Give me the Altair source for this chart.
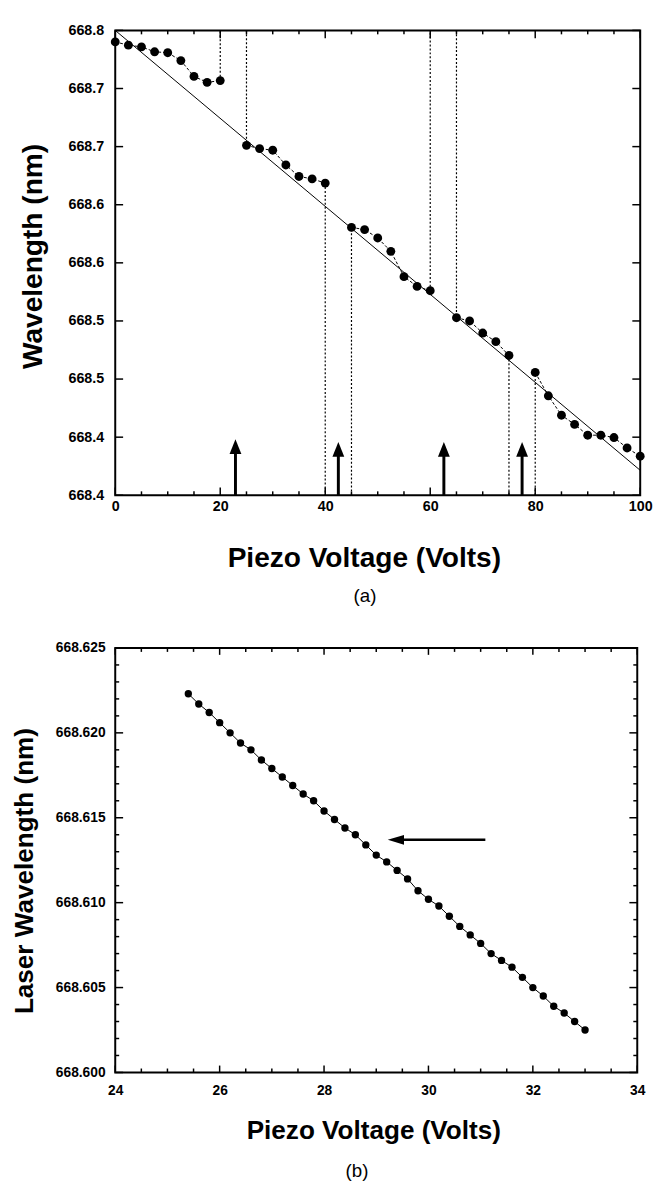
import altair as alt
import pandas as pd

# ---------------- panel (a) ----------------
a_volt = [0, 2.5, 5, 7.5, 10, 12.5, 15, 17.5, 20,
          25, 27.5, 30, 32.5, 35, 37.5, 40,
          45, 47.5, 50, 52.5, 55, 57.5, 60,
          65, 67.5, 70, 72.5, 75,
          80, 82.5, 85, 87.5, 90, 92.5, 95, 97.5, 100]
a_wave = [668.7901, 668.7873, 668.7858, 668.7816, 668.7808, 668.7740, 668.7604, 668.7553, 668.7568,
          668.7011, 668.6983, 668.6969, 668.6842, 668.6743, 668.6723, 668.6686,
          668.6305, 668.6286, 668.6214, 668.6099, 668.5881, 668.5797, 668.5760,
          668.5528, 668.5500, 668.5396, 668.5322, 668.5203,
          668.5057, 668.4856, 668.4689, 668.4610, 668.4517, 668.4517, 668.4497, 668.4407, 668.4336]
a_segment = ["s1", "s1", "s1", "s1", "s1", "s1", "s1", "s1", "s1",
             "s2", "s2", "s2", "s2", "s2", "s2", "s2",
             "s3", "s3", "s3", "s3", "s3", "s3", "s3",
             "s4", "s4", "s4", "s4", "s4",
             "s5", "s5", "s5", "s5", "s5", "s5", "s5", "s5", "s5"]

fit_volt = [0, 100]
fit_wave = [668.800, 668.4215]

hop_volt = [20, 25, 40, 45, 60, 65, 75, 80]
hop_from = [668.7568, 668.800, 668.6686, 668.400, 668.5760, 668.800, 668.5203, 668.400]
hop_to = [668.800, 668.7011, 668.400, 668.6305, 668.800, 668.5528, 668.400, 668.5057]

arrow_volt = [22.9, 42.5, 62.6, 77.5]
arrow_base = [668.400, 668.400, 668.400, 668.400]
arrow_shaft_end = [668.4400, 668.4375, 668.4375, 668.4375]
arrow_tip = [668.4483, 668.4458, 668.4458, 668.4458]

a_x_labels = [0, 20, 40, 60, 80, 100]
a_x_minor = [5, 10, 15, 25, 30, 35, 45, 50, 55, 65, 70, 75, 85, 90, 95]
a_y_labels = [668.40, 668.45, 668.50, 668.55, 668.60, 668.65, 668.70, 668.75, 668.80]

# ---------------- panel (b) ----------------
b_volt = [25.4, 25.6, 25.8, 26.0, 26.2, 26.4, 26.6, 26.8, 27.0, 27.2,
          27.4, 27.6, 27.8, 28.0, 28.2, 28.4, 28.6, 28.8, 29.0, 29.2,
          29.4, 29.6, 29.8, 30.0, 30.2, 30.4, 30.6, 30.8, 31.0, 31.2,
          31.4, 31.6, 31.8, 32.0, 32.2, 32.4, 32.6, 32.8, 33.0]
b_wave = [668.6223, 668.6217, 668.6212, 668.6206, 668.6200, 668.6194, 668.6190, 668.6184, 668.6179, 668.6174,
          668.6169, 668.6164, 668.6160, 668.6154, 668.6149, 668.6144, 668.6140, 668.6134, 668.6128, 668.6124,
          668.6119, 668.6114, 668.6107, 668.6102, 668.6098, 668.6092, 668.6086, 668.6081, 668.6076, 668.6070,
          668.6066, 668.6062, 668.6056, 668.6050, 668.6045, 668.6039, 668.6035, 668.6030, 668.6025]

b_arrow_tail = [31.09]
b_arrow_shaft_end = [29.45]
b_arrow_tip = [29.22]
b_arrow_wave = [668.6137]

b_x_labels = [24, 26, 28, 30, 32, 34]
b_x_minor = [24.5, 25, 25.5, 26.5, 27, 27.5, 28.5, 29, 29.5, 30.5, 31, 31.5, 32.5, 33, 33.5]
b_y_labels = [668.600, 668.605, 668.610, 668.615, 668.620, 668.625]
b_y_minor = [668.601, 668.602, 668.603, 668.604, 668.606, 668.607, 668.608, 668.609,
             668.611, 668.612, 668.613, 668.614, 668.616, 668.617, 668.618, 668.619,
             668.621, 668.622, 668.623, 668.624]

FONT = "Liberation Sans"
UP_ARROW = "M0,0L-1,2.5L1,2.5Z"
LEFT_ARROW = "M0,0L3.3,-1L3.3,1Z"


def x_ticks(values, scale, axis, length, H, width=1.5):
    df = pd.DataFrame({"t": values})
    base = alt.Chart(df).mark_rule(color="black", strokeWidth=width)
    bottom = base.encode(x=alt.X("t:Q", scale=scale, axis=axis),
                         y=alt.value(H), y2=alt.value(H - length))
    top = base.encode(x=alt.X("t:Q", scale=scale, axis=axis),
                      y=alt.value(0), y2=alt.value(length))
    return [bottom, top]


def y_ticks(values, scale, axis, length, W, width=1.5):
    df = pd.DataFrame({"t": values})
    base = alt.Chart(df).mark_rule(color="black", strokeWidth=width)
    left = base.encode(y=alt.Y("t:Q", scale=scale, axis=axis),
                       x=alt.value(0), x2=alt.value(length))
    right = base.encode(y=alt.Y("t:Q", scale=scale, axis=axis),
                        x=alt.value(W), x2=alt.value(W - length))
    return [left, right]


# ================= chart (a) =================
W1, H1 = 533, 472
xs1 = alt.Scale(domain=[0, 100], nice=False, zero=False)
ys1 = alt.Scale(domain=[668.40, 668.80], nice=False, zero=False)

df_a = pd.DataFrame({"volt": a_volt, "wave": a_wave, "seg": a_segment})
df_fit = pd.DataFrame({"volt": fit_volt, "wave": fit_wave})
df_hop = pd.DataFrame({"volt": hop_volt, "w1": hop_from, "w2": hop_to})
df_arr = pd.DataFrame({"volt": arrow_volt, "base": arrow_base,
                       "shaft": arrow_shaft_end, "tip": arrow_tip})

xa1 = alt.Axis(values=a_x_labels, format="d", labelFlush=False, labelOverlap=False,
               labelFont=FONT, labelFontSize=14.5, labelFontWeight="bold",
               labelColor="black", labelPadding=4, ticks=False, tickSize=0,
               domain=False, grid=False,
               title="Piezo Voltage (Volts)", titleFont=FONT, titleFontSize=28.5,
               titleFontWeight="bold", titleColor="black",
               titleX=252.4, titleY=72, titleAlign="center", titleBaseline="alphabetic")
ya1 = alt.Axis(values=a_y_labels,
               labelExpr="format(floor(datum.value*10+0.0001)/10, '.1f')",
               labelFlush=False, labelOverlap=False,
               labelFont=FONT, labelFontSize=14.5, labelFontWeight="bold",
               labelColor="black", labelPadding=11.7, ticks=False, tickSize=0,
               domain=False, grid=False,
               title="Wavelength (nm)", titleFont=FONT, titleFontSize=28.5,
               titleFontWeight="bold", titleColor="black", titleAngle=270,
               titleX=-75.3, titleY=229, titleAlign="center", titleBaseline="alphabetic")

X1 = lambda f: alt.X(f, scale=xs1, axis=xa1)
Y1 = lambda f: alt.Y(f, scale=ys1, axis=ya1)

fit1 = alt.Chart(df_fit).mark_line(color="black", strokeWidth=1).encode(
    x=X1("volt:Q"), y=Y1("wave:Q"))
connect1 = alt.Chart(df_a).mark_line(color="black", strokeWidth=1, strokeDash=[3, 2]).encode(
    x=X1("volt:Q"), y=Y1("wave:Q"), detail="seg:N")
hops1 = alt.Chart(df_hop).mark_rule(color="black", strokeWidth=1.2, strokeDash=[2, 2]).encode(
    x=X1("volt:Q"), y=Y1("w1:Q"), y2="w2:Q")
shafts1 = alt.Chart(df_arr).mark_rule(color="black", strokeWidth=3).encode(
    x=X1("volt:Q"), y=Y1("base:Q"), y2="shaft:Q")
heads1 = alt.Chart(df_arr).mark_point(shape=UP_ARROW, size=144, filled=True, color="black",
                                       opacity=1, strokeWidth=0).encode(
    x=X1("volt:Q"), y=Y1("tip:Q"))
points1 = alt.Chart(df_a).mark_circle(size=81, color="black", opacity=1).encode(
    x=X1("volt:Q"), y=Y1("wave:Q"))

ticks1 = (x_ticks(a_x_labels, xs1, xa1, 8, H1) + x_ticks(a_x_minor, xs1, xa1, 4, H1)
          + y_ticks(a_y_labels, ys1, ya1, 8, W1))

chart_a = alt.layer(fit1, connect1, hops1, shafts1, heads1, *ticks1, points1).properties(
    width=W1, height=H1,
    title=alt.TitleParams("(a)", orient="bottom", anchor="middle", frame="group",
                          dx=-13, offset=16, font=FONT, fontSize=19, fontWeight="normal",
                          color="black", baseline="top"))

# ================= chart (b) =================
W2, H2 = 530, 431
xs2 = alt.Scale(domain=[24, 34], nice=False, zero=False)
ys2 = alt.Scale(domain=[668.600, 668.625], nice=False, zero=False)

df_b = pd.DataFrame({"volt": b_volt, "wave": b_wave})
df_barr = pd.DataFrame({"tail": b_arrow_tail, "shaft": b_arrow_shaft_end,
                        "tip": b_arrow_tip, "wave": b_arrow_wave})

xa2 = alt.Axis(values=b_x_labels, format="d", labelFlush=False, labelOverlap=False,
               labelFont=FONT, labelFontSize=14, labelFontWeight="bold",
               labelColor="black", labelPadding=11, ticks=False, tickSize=0,
               domain=False, grid=False,
               title="Piezo Voltage (Volts)", titleFont=FONT, titleFontSize=26.5,
               titleFontWeight="bold", titleColor="black",
               titleX=262, titleY=66.7, titleAlign="center", titleBaseline="alphabetic")
ya2 = alt.Axis(values=b_y_labels, format=".3f", labelFlush=False, labelOverlap=False,
               labelFont=FONT, labelFontSize=14, labelFontWeight="bold",
               labelColor="black", labelPadding=10.3, ticks=False, tickSize=0,
               domain=False, grid=False,
               title="Laser Wavelength (nm)", titleFont=FONT, titleFontSize=26.5,
               titleFontWeight="bold", titleColor="black", titleAngle=270,
               titleX=-83.5, titleY=226, titleAlign="center", titleBaseline="alphabetic")

X2 = lambda f: alt.X(f, scale=xs2, axis=xa2)
Y2 = lambda f: alt.Y(f, scale=ys2, axis=ya2)

line2 = alt.Chart(df_b).mark_line(color="black", strokeWidth=1).encode(
    x=X2("volt:Q"), y=Y2("wave:Q"))
shaft2 = alt.Chart(df_barr).mark_rule(color="black", strokeWidth=2.5).encode(
    x=X2("tail:Q"), x2="shaft:Q", y=Y2("wave:Q"))
head2 = alt.Chart(df_barr).mark_point(shape=LEFT_ARROW, size=100, filled=True, color="black",
                                      opacity=1, strokeWidth=0).encode(
    x=X2("tip:Q"), y=Y2("wave:Q"))
points2 = alt.Chart(df_b).mark_circle(size=56, color="black", opacity=1).encode(
    x=X2("volt:Q"), y=Y2("wave:Q"))

ticks2 = (x_ticks(b_x_labels, xs2, xa2, 7, H2) + x_ticks(b_x_minor, xs2, xa2, 4, H2)
          + y_ticks(b_y_labels, ys2, ya2, 8, W2) + y_ticks(b_y_minor, ys2, ya2, 4, W2))

chart_b = alt.layer(line2, shaft2, head2, *ticks2, points2).properties(
    width=W2, height=H2,
    title=alt.TitleParams("(b)", orient="bottom", anchor="middle", frame="group",
                          dx=-19.5, offset=19, font=FONT, fontSize=19, fontWeight="normal",
                          color="black", baseline="top"))

chart = alt.vconcat(chart_a, chart_b, spacing=33).properties(
    padding={"left": 11, "top": 12.75, "right": 0, "bottom": 0},
    background="white",
).configure_view(stroke="black", strokeWidth=2)

chart.save("out.html", embed_options={"renderer": "svg", "actions": False})
